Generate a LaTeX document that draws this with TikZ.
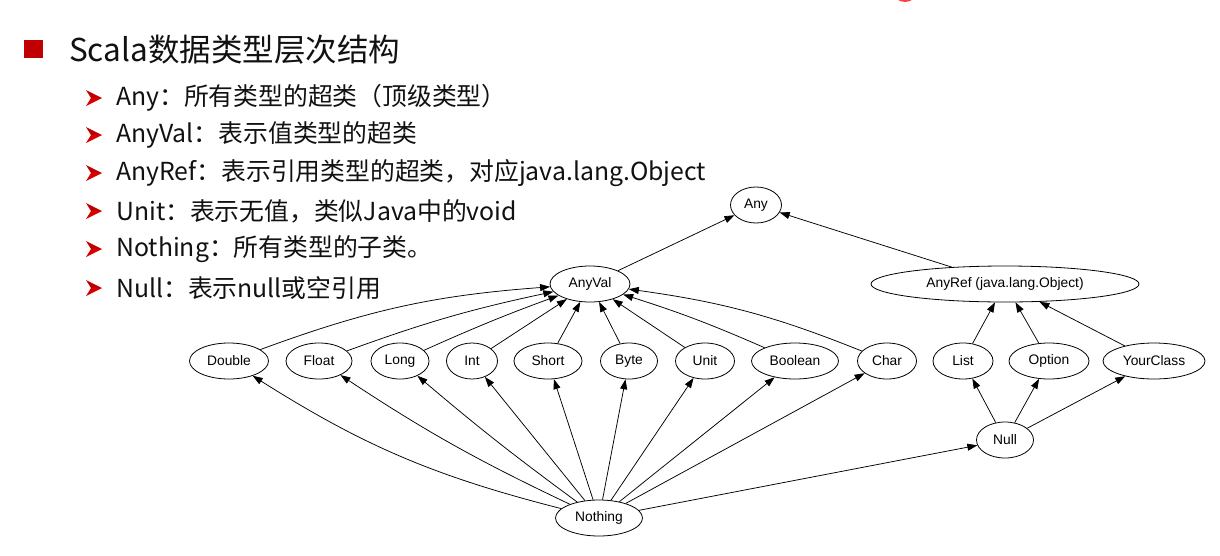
\documentclass[tikz,border=0pt]{standalone}
\usepackage{fontspec}
\setmainfont{Liberation Sans}
\newfontfamily\cjk{Noto Sans CJK SC}
\usetikzlibrary{shapes.geometric,arrows.meta}
\definecolor{slidered}{HTML}{C00000}
\definecolor{txtcol}{HTML}{111111}
\begin{document}
\begin{tikzpicture}[x=1pt,y=-1pt,
  tnode/.style={ellipse,draw,line width=0.8pt,inner sep=0pt,minimum height=36pt,font=\fontsize{13.8}{14}\selectfont},
  link/.style={line width=0.75pt,-{Triangle[length=10pt,width=7pt]}},
  titletext/.style={anchor=west,inner sep=0pt,font=\cjk\fontsize{31.5}{34}\selectfont,text=txtcol},
  bullettext/.style={anchor=west,inner sep=0pt,font=\cjk\fontsize{24.8}{28}\selectfont,text=txtcol}]
\useasboundingbox (0,0) rectangle (1220,555);
\fill[white] (0,0) rectangle (1220,555);
% partial red mark at top edge
\draw[red!75!white,line width=2pt] (905,-11) circle (12);
% title
\fill[slidered] (24,40) rectangle (43,58);
\node[titletext] (title) at (69,50) {Scala数据类型层次结构};
% bullets
\foreach \yy in {98,135,173,211,249,288} {
  \fill[slidered] (86,\yy-8) -- (102,\yy) -- (91,\yy) -- cycle;
  \fill[red!85!black] (91,\yy) -- (102,\yy) -- (86,\yy+8) -- cycle;
}
\node[bullettext] (b1) at (116,98) {Any：所有类型的超类（顶级类型）};
\node[bullettext] (b2) at (116,135) {AnyVal：表示值类型的超类};
\node[bullettext] (b3) at (116,173) {AnyRef：表示引用类型的超类，对应java.lang.Object};
\node[bullettext] (b4) at (116,211) {Unit：表示无值，类似Java中的void};
\node[bullettext] (b5) at (116,249) {Nothing：所有类型的子类。};
\node[bullettext] (b6) at (116,288) {Null：表示null或空引用};
% graph nodes
\node[tnode,minimum width=51pt] (any) at (756,205) {Any};
\node[tnode,minimum width=80pt] (anyval) at (590,284) {AnyVal};
\node[tnode,minimum width=268pt] (anyref) at (1005,284) {AnyRef (java.lang.Object)};
\node[tnode,minimum width=79pt] (double) at (229,361) {Double};
\node[tnode,minimum width=66pt] (float) at (319,361) {Float};
\node[tnode,minimum width=58pt] (long) at (400,361) {Long};
\node[tnode,minimum width=51pt] (int) at (472,361) {Int};
\node[tnode,minimum width=68pt] (short) at (548,361) {Short};
\node[tnode,minimum width=57pt] (byte) at (629,361) {Byte};
\node[tnode,minimum width=59pt] (unit) at (705,361) {Unit};
\node[tnode,minimum width=87pt] (boolean) at (795,361) {Boolean};
\node[tnode,minimum width=59pt] (char) at (887,361) {Char};
\node[tnode,minimum width=60pt] (list) at (963,361) {List};
\node[tnode,minimum width=80pt] (option) at (1049,361) {Option};
\node[tnode,minimum width=102pt] (yourclass) at (1154,361) {YourClass};
\node[tnode,minimum width=57pt] (nnull) at (1005,440) {Null};
\node[tnode,minimum width=87pt] (nothing) at (599,518) {Nothing};
% edges
\draw[link] (anyval) -- (any);
\draw[link] (anyref) -- (any);
\draw[link] (double) to[bend left=8] (anyval);
\draw[link] (float) to[bend left=4] (anyval);
\draw[link] (long) to[bend left=2] (anyval);
\draw[link] (int) -- (anyval);
\draw[link] (short) -- (anyval);
\draw[link] (byte) -- (anyval);
\draw[link] (unit) -- (anyval);
\draw[link] (boolean) to[bend right=3] (anyval);
\draw[link] (char) to[bend right=7] (anyval);
\draw[link] (list) -- (anyref);
\draw[link] (option) -- (anyref);
\draw[link] (yourclass) -- (anyref);
\draw[link] (nnull) -- (list);
\draw[link] (nnull) -- (option);
\draw[link] (nnull) -- (yourclass);
\draw[link] (nothing) to[bend left=9] (double);
\draw[link] (nothing) to[bend left=4] (float);
\draw[link] (nothing) to[bend left=2] (long);
\draw[link] (nothing) -- (int);
\draw[link] (nothing) -- (short);
\draw[link] (nothing) -- (byte);
\draw[link] (nothing) -- (unit);
\draw[link] (nothing) -- (boolean);
\draw[link] (nothing) -- (char);
\draw[link] (nothing) -- (nnull);
\end{tikzpicture}
\end{document}
